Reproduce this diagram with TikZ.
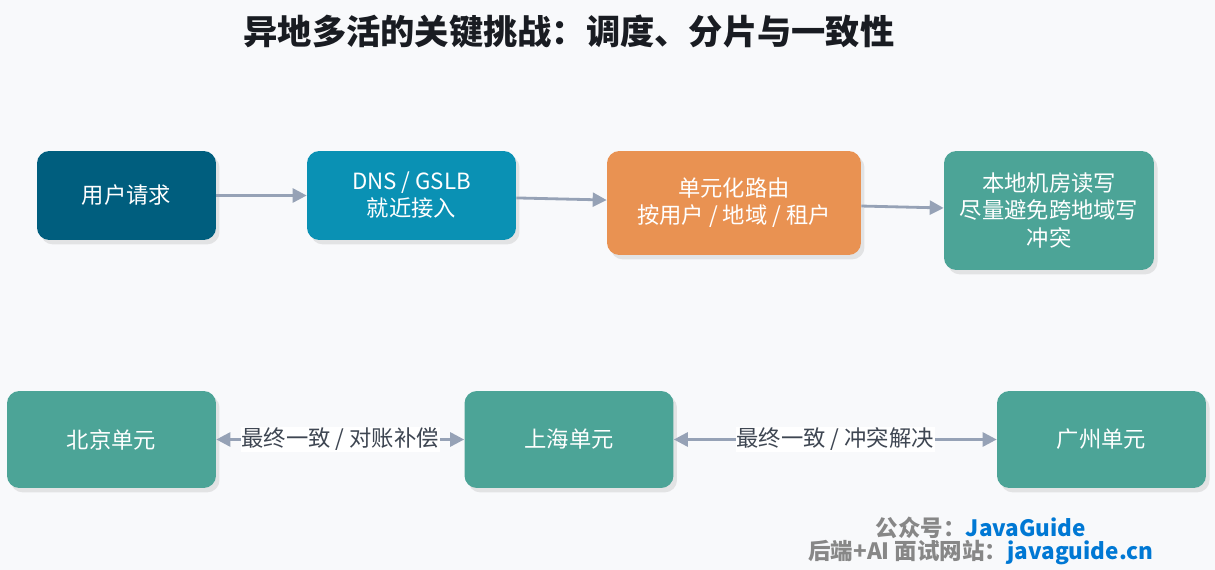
\documentclass[tikz,border=0pt]{standalone}
\usepackage{fontspec}
\setmainfont{Noto Sans CJK SC}
\usepackage{tikz}
\usetikzlibrary{arrows.meta,positioning,shadows,calc}
\definecolor{bgpaper}{RGB}{248,249,251}
\definecolor{userblue}{RGB}{0,94,126}
\definecolor{dnsblue}{RGB}{10,145,180}
\definecolor{routeorange}{RGB}{233,146,82}
\definecolor{unitteal}{RGB}{76,164,151}
\definecolor{linkgray}{RGB}{150,162,182}
\definecolor{labelgray}{RGB}{62,70,82}
\definecolor{titleblack}{RGB}{25,28,34}
\definecolor{markgray}{RGB}{135,135,135}
\definecolor{markblue}{RGB}{0,120,212}
\tikzset{
  stage/.style ={rectangle, rounded corners=7pt, text=white, align=center,
                 font=\fontsize{12.7}{15.4}\selectfont, inner sep=2pt,
                 drop shadow={opacity=0.18, shadow xshift=2pt, shadow yshift=-2.5pt}},
  unit/.style  ={stage, fill=unitteal, minimum width=4.18cm, minimum height=1.94cm},
  flow/.style  ={-{Triangle[length=2.8mm,width=2.8mm]}, line width=1.6pt, draw=linkgray},
  sync/.style  ={{Triangle[length=2.8mm,width=2.8mm]}-{Triangle[length=2.8mm,width=2.8mm]},
                 line width=1.6pt, draw=linkgray},
  lbl/.style   ={font=\fontsize{12.7}{14}\selectfont, text=labelgray, fill=white, inner sep=0.5pt}
}
\begin{document}
\begin{tikzpicture}[x=0.02cm, y=-0.02cm]
\fill[bgpaper] (0,0) rectangle (1215,570);
\useasboundingbox (0,0) rectangle (1215,570);

% Title
\node[font=\fontsize{19.5}{22}\selectfont\bfseries, text=titleblack] (title) at (569,32)
  {异地多活的关键挑战：调度、分片与一致性};

% Request path (top row)
\node[stage, fill=userblue, minimum width=3.58cm, minimum height=1.78cm] (req) at (126.5,195.5) {用户请求};
\node[stage, fill=dnsblue, minimum width=4.18cm, minimum height=1.78cm] (dns) at (411.5,195.5) {DNS / GSLB\\就近接入};
\node[stage, fill=routeorange, minimum width=5.08cm, minimum height=2.08cm] (route) at (734,203) {单元化路由\\按用户 / 地域 / 租户};
\node[stage, fill=unitteal, minimum width=4.2cm, minimum height=2.38cm] (local) at (1049,210.5) {本地机房读写\\尽量避免跨地域写\\冲突};

\draw[flow] (req) -- (dns);
\draw[flow] (dns) -- (route);
\draw[flow] (route) -- (local);

% Units (bottom row)
\node[unit] (bj) at (111.5,439.5) {北京单元};
\node[unit] (sh) at (569,439.5) {上海单元};
\node[unit] (gz) at (1101.5,439.5) {广州单元};

\draw[sync] (bj) -- node[lbl] (bjsh) {最终一致 / 对账补偿} (sh);
\draw[sync] (sh) -- node[lbl] (shgz) {最终一致 / 冲突解决} (gz);

% Watermark
\node[font=\fontsize{12.8}{14}\selectfont\bfseries, text=markgray] (mark1) at (981,528)
  {公众号：\textcolor{markblue}{JavaGuide}};
\node[font=\fontsize{12.8}{14}\selectfont\bfseries, text=markgray] (mark2) at (981,553)
  {后端+AI 面试网站：\textcolor{markblue}{javaguide.cn}};
\end{tikzpicture}
\end{document}
